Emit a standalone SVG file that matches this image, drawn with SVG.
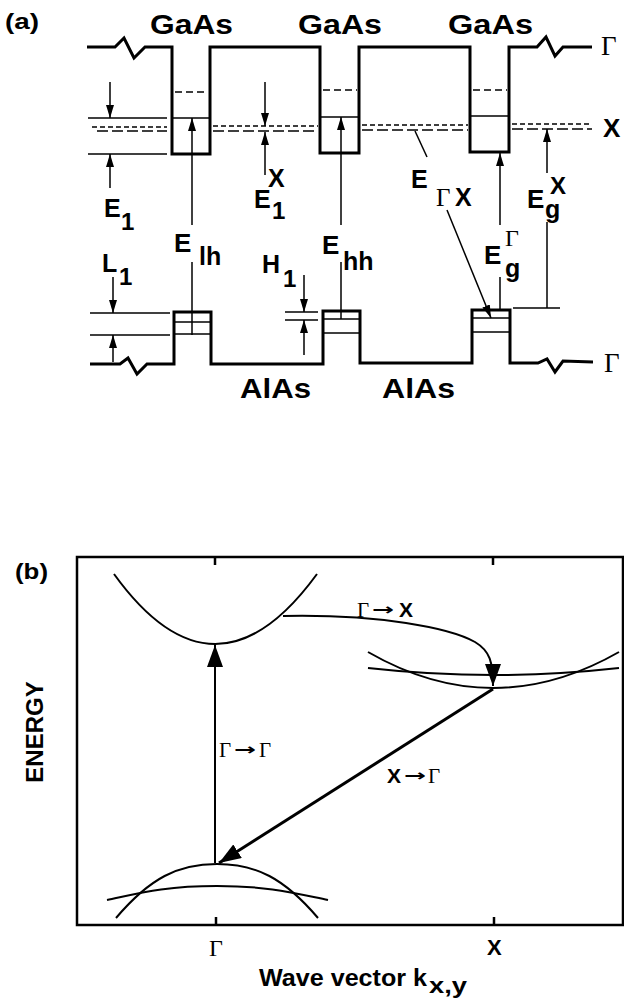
<svg xmlns="http://www.w3.org/2000/svg" width="624" height="1000" viewBox="0 0 624 1000">
<style>
.bg{fill:#fff}
.thick{fill:none;stroke:#000;stroke-width:3;stroke-linejoin:miter}
.thin{fill:none;stroke:#000;stroke-width:1.4}
.dfine{fill:none;stroke:#000;stroke-width:1.4;stroke-dasharray:5 3}
.dcoarse{fill:none;stroke:#000;stroke-width:1.4;stroke-dasharray:11 4}
.dwell{fill:none;stroke:#000;stroke-width:1.4;stroke-dasharray:7 4}
.arr{fill:none;stroke:#000;stroke-width:1.5}
.curve{fill:none;stroke:#000;stroke-width:2}
.frame{fill:none;stroke:#000;stroke-width:2.5}
.sans{font-family:"Liberation Sans",Arial,Helvetica,sans-serif;font-weight:bold;fill:#000}
.sansn{font-family:"Liberation Sans",Arial,Helvetica,sans-serif;fill:#000}
.serif{font-family:"Liberation Serif","Times New Roman",serif;fill:#000}
.arrow-glyph{font-family:"DejaVu Sans",sans-serif;font-weight:bold;fill:#000}
</style>
<defs>
<marker id="ah" viewBox="0 0 13 8" refX="13" refY="4" markerWidth="13" markerHeight="8" markerUnits="userSpaceOnUse" orient="auto">
<path d="M0,0 L13,4 L0,8 z" fill="#000"/>
</marker>
<marker id="ahb" viewBox="0 0 22 16" refX="22" refY="8" markerWidth="22" markerHeight="16" markerUnits="userSpaceOnUse" orient="auto">
<path d="M0,0 L22,8 L0,16 z" fill="#000"/>
</marker>
</defs>
<rect class="bg" x="0" y="0" width="624" height="1000"/>

<g id="panel-a">
<text class="sans" x="5" y="29" font-size="22" textLength="34" lengthAdjust="spacingAndGlyphs">(a)</text>

<g id="conduction-band">
<path class="thick" d="M87,47 L115,47 L124,38 L134,58 L145,47 L172,47 L172,154 L210,154 L210,47 L320,47 L320,153 L359,153 L359,47 L470,47 L470,152 L509,152 L509,47 L537,47 L546,37 L555,56 L563,47 L592,47"/>
<line class="thin" x1="172" y1="118" x2="210" y2="118"/>
<line class="dwell" x1="175" y1="92" x2="208" y2="92"/>
<line class="thin" x1="320" y1="117" x2="359" y2="117"/>
<line class="dwell" x1="323" y1="90" x2="357" y2="90"/>
<line class="thin" x1="470" y1="116" x2="509" y2="116"/>
<line class="dwell" x1="473" y1="90" x2="507" y2="90"/>
<line class="thin" x1="88" y1="118" x2="167" y2="118"/>
<line class="thin" x1="88" y1="154" x2="167" y2="154"/>
<line class="dfine" x1="92" y1="127" x2="167" y2="127"/>
<line class="dcoarse" x1="97" y1="131" x2="167" y2="131"/>
<line class="dfine" x1="213" y1="126" x2="318" y2="126"/>
<line class="dcoarse" x1="213" y1="131" x2="318" y2="131"/>
<line class="dfine" x1="362" y1="125" x2="468" y2="125"/>
<line class="dcoarse" x1="362" y1="130" x2="468" y2="130"/>
<line class="dfine" x1="512" y1="124" x2="592" y2="124"/>
<line class="dcoarse" x1="512" y1="129" x2="592" y2="129"/>
</g>

<g id="valence-band">
<path class="thick" d="M90,364 L120,364 L128,358 L137,374 L147,364 L174,364 L174,312 L211,312 L211,364 L323,364 L323,311 L360,311 L360,363 L472,363 L472,310 L510,310 L510,363 L538,363 L547,359 L555,372 L563,361 L593,362"/>
<line class="thin" x1="174" y1="322" x2="211" y2="322"/>
<line class="thin" x1="174" y1="334" x2="211" y2="334"/>
<line class="thin" x1="323" y1="319" x2="360" y2="319"/>
<line class="thin" x1="323" y1="333" x2="360" y2="333"/>
<line class="thin" x1="472" y1="318" x2="510" y2="318"/>
<line class="thin" x1="472" y1="332" x2="510" y2="332"/>
<line class="thin" x1="90" y1="313" x2="170" y2="313"/>
<line class="thin" x1="90" y1="335" x2="170" y2="335"/>
<line class="thin" x1="285" y1="312" x2="318" y2="312"/>
<line class="thin" x1="285" y1="320" x2="318" y2="320"/>
<line class="thin" x1="513" y1="308" x2="560" y2="308"/>
</g>

<g id="labels-a">
<text class="sans" x="150" y="34" font-size="27" textLength="83" lengthAdjust="spacingAndGlyphs">GaAs</text>
<text class="sans" x="298" y="34" font-size="27" textLength="84" lengthAdjust="spacingAndGlyphs">GaAs</text>
<text class="sans" x="448" y="34" font-size="27" textLength="85" lengthAdjust="spacingAndGlyphs">GaAs</text>
<text class="serif" x="601" y="55" font-size="27">Γ</text>
<text class="sans" x="603" y="137" font-size="26">X</text>
<text class="sans" x="240" y="398" font-size="27" textLength="71" lengthAdjust="spacingAndGlyphs">AlAs</text>
<text class="sans" x="382" y="398" font-size="27" textLength="73" lengthAdjust="spacingAndGlyphs">AlAs</text>
<text class="serif" x="604" y="372" font-size="27">Γ</text>

<text class="sans" x="104" y="217" font-size="25">E</text>
<text class="sans" x="121" y="230" font-size="24">1</text>

<text class="sans" x="254" y="208" font-size="25">E</text>
<text class="sans" x="268" y="187" font-size="25">X</text>
<text class="sans" x="272" y="219" font-size="24">1</text>

<text class="sans" x="174" y="252" font-size="26">E</text>
<text class="sans" x="199" y="265" font-size="25">lh</text>

<text class="sans" x="102" y="272" font-size="25">L</text>
<text class="sans" x="119" y="285" font-size="24">1</text>

<text class="sans" x="262" y="273" font-size="25">H</text>
<text class="sans" x="283" y="287" font-size="24">1</text>

<text class="sans" x="322" y="254" font-size="26">E</text>
<text class="sans" x="343" y="270" font-size="25">hh</text>

<text class="sans" x="411" y="188" font-size="25">E</text>
<text class="serif" x="436" y="206" font-size="25">Γ</text>
<text class="sans" x="455" y="206" font-size="25">X</text>

<text class="sans" x="484" y="264" font-size="26">E</text>
<text class="serif" x="505" y="246" font-size="24">Γ</text>
<text class="sans" x="505" y="277" font-size="25">g</text>

<text class="sans" x="527" y="208" font-size="26">E</text>
<text class="sans" x="550" y="194" font-size="24">X</text>
<text class="sans" x="545" y="218" font-size="25">g</text>
</g>
</g>

<g id="panel-b">
<text class="sans" x="15" y="579" font-size="22" textLength="33" lengthAdjust="spacingAndGlyphs">(b)</text>
<rect class="frame" x="77" y="557" width="546" height="368"/>
<line class="frame" x1="215" y1="557" x2="215" y2="565"/>
<line class="frame" x1="493" y1="557" x2="493" y2="565"/>
<line class="frame" x1="216" y1="925" x2="216" y2="917"/>
<line class="frame" x1="494" y1="925" x2="494" y2="917"/>

<g id="gamma-conduction">
<path class="curve" d="M114,574 Q215,714 317,574"/>
</g>
<g id="x-valley">
<path class="curve" d="M368,652 Q493,724 619,652"/>
<path class="curve" d="M368,668 Q493,682 619,668"/>
</g>
<g id="gamma-valence">
<path class="curve" d="M116,918 C150,878 178,864 217,864 C256,864 284,878 318,918"/>
<path class="curve" d="M107,900 C140,893 165,886 217,886 C269,886 294,893 328,900"/>
</g>

<text class="sans" transform="translate(43,732) rotate(-90)" font-size="24" text-anchor="middle">ENERGY</text>
<text class="sans" x="259" y="986" font-size="24" textLength="168" lengthAdjust="spacingAndGlyphs">Wave vector k</text>
<text class="sans" x="429" y="993" font-size="22" textLength="38" lengthAdjust="spacingAndGlyphs">x,y</text>
<text class="serif" x="209" y="956" font-size="24">Γ</text>
<text class="sans" x="487" y="955" font-size="22">X</text>

<text class="serif" x="357" y="617" font-size="21">Γ</text>
<text class="arrow-glyph" x="372" y="615" font-size="16" textLength="22" lengthAdjust="spacingAndGlyphs">→</text>
<text class="sans" x="399" y="617" font-size="21">X</text>

<text class="serif" x="219" y="757" font-size="21">Γ</text>
<text class="arrow-glyph" x="234" y="755" font-size="16" textLength="22" lengthAdjust="spacingAndGlyphs">→</text>
<text class="serif" x="259" y="757" font-size="21">Γ</text>

<text class="sans" x="387" y="783" font-size="21">X</text>
<text class="arrow-glyph" x="404" y="781" font-size="16" textLength="22" lengthAdjust="spacingAndGlyphs">→</text>
<text class="serif" x="428" y="783" font-size="21">Γ</text>
</g>

<g id="connectors">
<line class="arr" x1="110" y1="82" x2="110" y2="118" marker-end="url(#ah)"/>
<line class="arr" x1="110" y1="188" x2="110" y2="154" marker-end="url(#ah)"/>
<line class="arr" x1="265" y1="82" x2="265" y2="126" marker-end="url(#ah)"/>
<line class="arr" x1="265" y1="175" x2="265" y2="132" marker-end="url(#ah)"/>
<line class="arr" x1="192" y1="225" x2="192" y2="118" marker-end="url(#ah)"/>
<line class="arr" x1="192" y1="262" x2="192" y2="335"/>
<line class="arr" x1="341" y1="225" x2="341" y2="117" marker-end="url(#ah)"/>
<line class="arr" x1="341" y1="262" x2="341" y2="319"/>
<line class="arr" x1="427" y1="157" x2="415" y2="131"/>
<line class="arr" x1="447" y1="210" x2="491" y2="318" marker-end="url(#ah)"/>
<line class="arr" x1="500" y1="225" x2="500" y2="153" marker-end="url(#ah)"/>
<line class="arr" x1="500" y1="277" x2="500" y2="310"/>
<line class="arr" x1="547" y1="173" x2="547" y2="129" marker-end="url(#ah)"/>
<line class="arr" x1="547" y1="222" x2="547" y2="308"/>
<line class="arr" x1="113" y1="277" x2="113" y2="313" marker-end="url(#ah)"/>
<line class="arr" x1="113" y1="362" x2="113" y2="335" marker-end="url(#ah)"/>
<line class="arr" x1="304" y1="275" x2="304" y2="312" marker-end="url(#ah)"/>
<line class="arr" x1="304" y1="355" x2="304" y2="320" marker-end="url(#ah)"/>

<line style="fill:none;stroke:#000;stroke-width:2" x1="215" y1="863" x2="215" y2="645" marker-end="url(#ahb)"/>
<path style="fill:none;stroke:#000;stroke-width:2" d="M283,616 C380,614 450,628 475,642 C490,651 493,662 493,686" marker-end="url(#ahb)"/>
<line style="fill:none;stroke:#000;stroke-width:3" x1="493" y1="689" x2="219" y2="863" marker-end="url(#ahb)"/>
</g>
</svg>
